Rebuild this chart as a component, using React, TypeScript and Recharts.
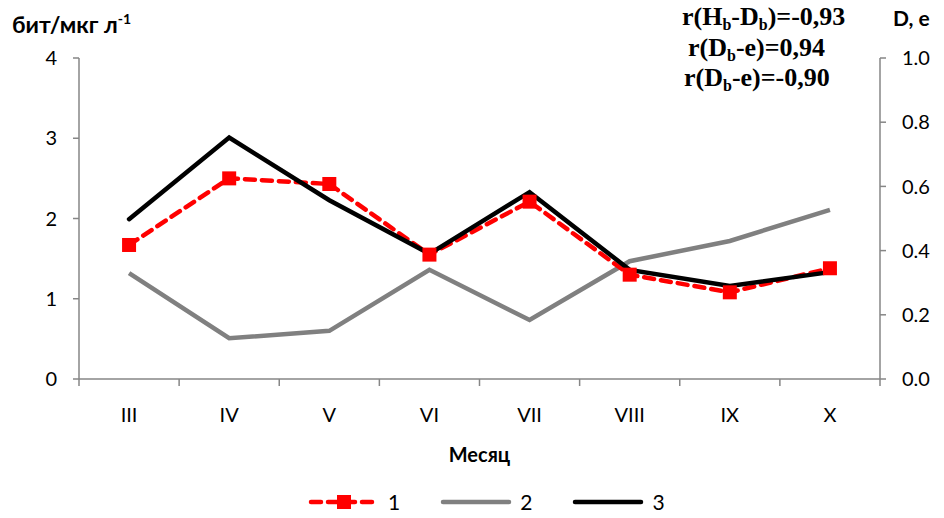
import React from 'react';
import { LineChart, Line, XAxis, YAxis } from 'recharts';

// месяцы и три ряда: 1 — левая ось (бит/мкг л-1), 2 и 3 — правая ось (D, e)
const months = ['III', 'IV', 'V', 'VI', 'VII', 'VIII', 'IX', 'X'];
const series1 = [1.67, 2.5, 2.43, 1.55, 2.21, 1.3, 1.08, 1.38];
const series2 = [0.33, 0.127, 0.15, 0.34, 0.184, 0.367, 0.43, 0.527];
const series3 = [0.498, 0.752, 0.557, 0.39, 0.582, 0.34, 0.29, 0.333];

const leftTicks = [0, 1, 2, 3, 4];
const rightTicks = [0, 0.2, 0.4, 0.6, 0.8, 1.0];
// целые — засечки на границах месяцев, половинки — подписи по центру
const xTicks = Array.from({ length: months.length * 2 + 1 }, (_, i) => i / 2);

const data = months.map((m, i) => ({
  month: m,
  pos: i + 0.5,
  s1: series1[i],
  s2: series2[i],
  s3: series3[i],
}));

const W = 944;
const H = 518;
const AXIS = '#868686';
const FONT = 'Lato, "Open Sans", sans-serif';
const tickStyle = { fontSize: 20, fill: '#000', fontFamily: FONT };

const MonthTick = (props: any) => {
  const { x, y, payload } = props;
  const v = payload.value as number;
  if (Number.isInteger(v)) {
    return <line x1={x} y1={y} x2={x} y2={y + 7} stroke={AXIS} strokeWidth={1.5} />;
  }
  return (
    <text x={x} y={y + 29} dy="0.71em" textAnchor="middle" {...tickStyle}>
      {months[Math.floor(v)]}
    </text>
  );
};

const SquareDot = (props: any) => {
  const { cx, cy, index } = props;
  if (cx == null || cy == null) return <g key={`d${index}`} />;
  return <rect key={`d${index}`} x={cx - 7} y={cy - 7} width={14} height={14} fill="#ff0000" />;
};

const legendItems = [
  { name: '1', color: '#ff0000', dash: '10 7', marker: true },
  { name: '2', color: '#808080', dash: undefined, marker: false },
  { name: '3', color: '#000000', dash: undefined, marker: false },
];

const annotations = [
  { pre: 'r(H', sub1: 'b', mid: '-D', sub2: 'b', post: ')=-0,93', left: 682, top: 3 },
  { pre: 'r(D', sub1: 'b', mid: '-e)=0,94', sub2: '', post: '', left: 688, top: 34 },
  { pre: 'r(D', sub1: 'b', mid: '-e)=-0,90', sub2: '', post: '', left: 684, top: 64 },
];

const subStyle: React.CSSProperties = { fontSize: 16, lineHeight: 0, verticalAlign: '-5px' };

export default function App() {
  return (
    <div style={{ position: 'absolute', left: 0, top: 0, width: W, height: H, background: '#fff' }}>
      <LineChart width={W} height={H} data={data} margin={{ top: 58, right: 0, left: 0, bottom: 0 }}>
        <XAxis
          type="number"
          dataKey="pos"
          domain={[0, months.length]}
          ticks={xTicks}
          interval={0}
          height={139}
          tickSize={0}
          tickMargin={0}
          tickLine={false}
          axisLine={{ stroke: AXIS, strokeWidth: 1.5 }}
          tick={MonthTick}
          label={{
            value: 'Месяц',
            position: 'insideTop',
            offset: 69,
            style: { fontSize: 20, fontWeight: 700, fill: '#000', fontFamily: FONT },
          }}
        />
        <YAxis
          yAxisId="left"
          domain={[0, 4]}
          ticks={leftTicks}
          width={79}
          tickSize={6}
          tickMargin={16}
          tick={tickStyle}
          axisLine={{ stroke: AXIS, strokeWidth: 1.5 }}
          tickLine={{ stroke: AXIS, strokeWidth: 1.5 }}
        />
        <YAxis
          yAxisId="right"
          orientation="right"
          domain={[0, 1]}
          ticks={rightTicks}
          width={64}
          tickSize={6}
          tickMargin={16}
          tick={tickStyle}
          tickFormatter={(v: number) => v.toFixed(1)}
          axisLine={{ stroke: AXIS, strokeWidth: 1.5 }}
          tickLine={{ stroke: AXIS, strokeWidth: 1.5 }}
        />
        <Line
          yAxisId="right"
          dataKey="s2"
          stroke="#808080"
          strokeWidth={4.5}
          dot={false}
          isAnimationActive={false}
        />
        <Line
          yAxisId="left"
          dataKey="s1"
          stroke="#ff0000"
          strokeWidth={4.5}
          strokeDasharray="10 7"
          strokeLinecap="round"
          dot={SquareDot}
          isAnimationActive={false}
        />
        <Line
          yAxisId="right"
          dataKey="s3"
          stroke="#000000"
          strokeWidth={4.5}
          strokeLinecap="round"
          dot={false}
          isAnimationActive={false}
        />
      </LineChart>

      <div style={{ position: 'absolute', left: 12, top: 10, fontFamily: FONT, fontWeight: 700, fontSize: 23, color: '#000' }}>
        бит/мкг л<sup style={{ fontSize: 14, lineHeight: 0 }}>-1</sup>
      </div>
      <div style={{ position: 'absolute', left: 893, top: 5, fontFamily: FONT, fontWeight: 700, fontSize: 21, color: '#000' }}>
        D, e
      </div>

      {annotations.map((a, i) => (
        <div
          key={i}
          style={{
            position: 'absolute',
            left: a.left,
            top: a.top,
            fontFamily: '"Liberation Serif", serif',
            fontWeight: 700,
            fontSize: 26,
            lineHeight: '28px',
            color: '#000',
            whiteSpace: 'nowrap',
          }}
        >
          {a.pre}
          <sub style={subStyle}>{a.sub1}</sub>
          {a.mid}
          {a.sub2 && <sub style={subStyle}>{a.sub2}</sub>}
          {a.post}
        </div>
      ))}

      <div style={{ position: 'absolute', left: 308, top: 489, display: 'flex', gap: 40, fontFamily: FONT, fontSize: 21 }}>
        {legendItems.map((it) => (
          <div key={it.name} style={{ display: 'flex', alignItems: 'center', gap: 8 }}>
            <svg width={72} height={20}>
              <line x1={3} y1={10} x2={69} y2={10} stroke={it.color} strokeWidth={4.5} strokeLinecap="round" strokeDasharray={it.dash} />
              {it.marker && <rect x={29} y={3} width={14} height={14} fill={it.color} />}
            </svg>
            <span>{it.name}</span>
          </div>
        ))}
      </div>
    </div>
  );
}
